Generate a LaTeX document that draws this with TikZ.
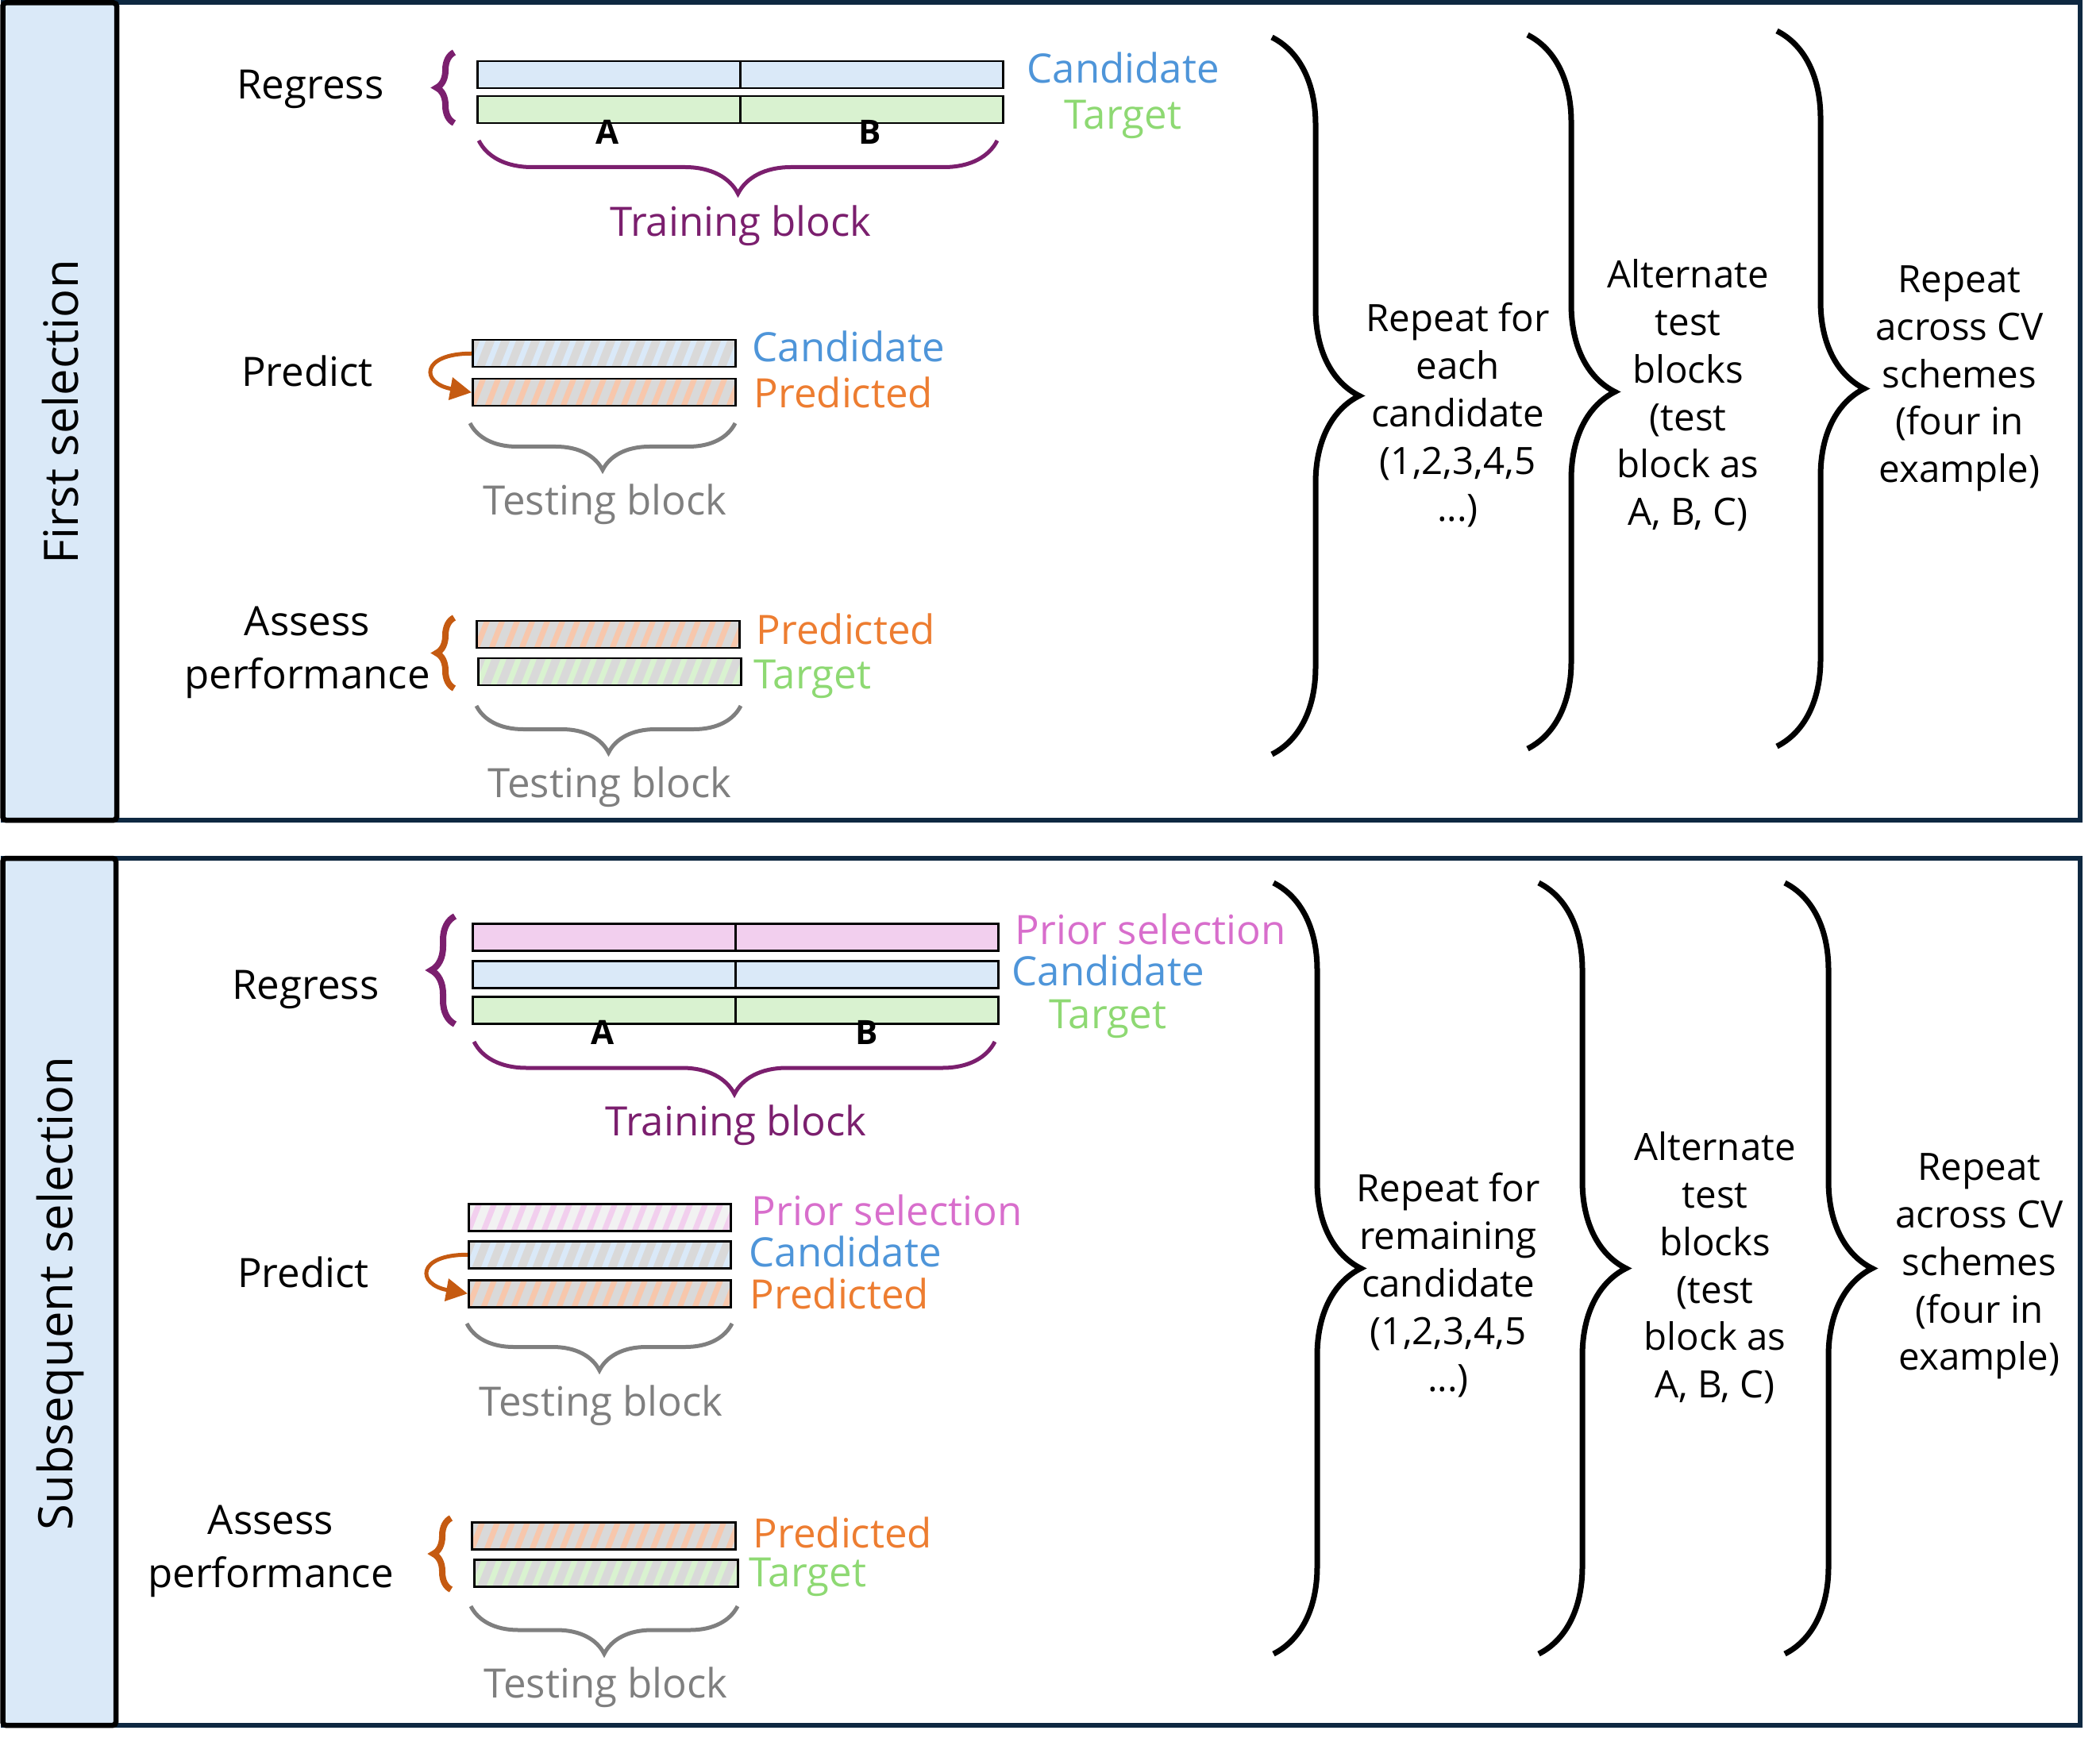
\documentclass[tikz,border=0pt]{standalone}
\usepackage{fontspec}
\setmainfont{Open Sans}
\usetikzlibrary{arrows.meta,decorations.pathreplacing}
\definecolor{navy}{HTML}{0E2841}
\definecolor{sidefill}{HTML}{DAE9F8}
\definecolor{trainc}{HTML}{7B1F6E}
\definecolor{arrowc}{HTML}{C55A11}
\definecolor{candc}{HTML}{4E95D9}
\definecolor{predc}{HTML}{ED7D31}
\definecolor{targc}{HTML}{8ED973}
\definecolor{priorc}{HTML}{D86ECC}
\definecolor{testc}{HTML}{7F7F7F}
\definecolor{candf}{HTML}{DAE9F8}
\definecolor{targf}{HTML}{D9F2D0}
\definecolor{priorf}{HTML}{F2CFEE}
\definecolor{predf}{HTML}{F7C7AC}
\definecolor{hbg}{HTML}{D9D9D9}
\definecolor{hbgl}{HTML}{F2F2F2}
\tikzset{
  panel/.style={draw=navy, line width=0.06cm},
  sidebox/.style={draw=black, fill=sidefill, line width=0.065cm, rounded corners=0.04cm},
  sidetext/.style={rotate=90, font=\fontsize{17}{20}\selectfont},
  txt/.style={inner sep=0pt, font=\fontsize{14.5}{17}\selectfont},
  multi/.style={inner sep=0pt, align=center, font=\fontsize{13.5}{17}\selectfont},
  assesstext/.style={inner sep=0pt, align=center, font=\fontsize{14.5}{19}\selectfont},
  abtext/.style={inner sep=0pt, font=\fontsize{12}{14}\selectfont\bfseries},
  longbar/.style={draw, line width=0.025cm, minimum width=6.62cm, minimum height=0.34cm, inner sep=0pt, anchor=north west},
  shortbar/.style={longbar, minimum width=3.31cm},
  hatch/.style 2 args={fill=#1, path picture={
      \foreach \k in {-0.4,-0.21,...,3.4}
        \draw[#2, line width=0.07cm] ([xshift=\k cm,yshift=-0.05cm]path picture bounding box.south west) -- ++(0.18,0.46);
    }},
  rbrace/.style={decorate, decoration={brace, amplitude=1.1cm}, line width=0.07cm},
  lbrace/.style={decorate, decoration={brace, amplitude=0.22cm}, line width=0.08cm},
  trainbrace/.style={decorate, decoration={brace, amplitude=0.67cm}, draw=trainc, line width=0.05cm},
  testbrace/.style={decorate, decoration={brace, amplitude=0.59cm}, draw=testc, line width=0.05cm},
  predarrow/.style={draw=arrowc, line width=0.05cm, -{Triangle[length=0.27cm,width=0.28cm]}}
}
\begin{document}
\begin{tikzpicture}
\useasboundingbox (0,0) rectangle (26.45,-21.89);

\draw[panel] (0.035,-0.035) rectangle (26.2,-10.33);
\draw[sidebox] (0.035,-0.035) rectangle (1.47,-10.33);
\node[sidetext] (first) at (0.76,-5.19) {First selection};

\node[txt, anchor=base] (reg1) at (3.91,-1.25) {Regress};
\node[longbar, fill=candf] (cand1) at (6.00,-0.76) {};
\node[longbar, fill=targf] (targ1) at (6.00,-1.20) {};
\draw[line width=0.025cm] (cand1.north) -- (cand1.south);
\draw[line width=0.025cm] (targ1.north) -- (targ1.south);
\node[abtext, anchor=base] (a1) at (7.65,-1.82) {A};
\node[abtext, anchor=base] (b1) at (10.96,-1.82) {B};
\draw[lbrace, draw=trainc] (5.72,-1.55) -- (5.72,-0.66);
\draw[trainbrace] (12.56,-1.77) -- (6.03,-1.77);
\node[txt, anchor=base, text=trainc] (train1) at (9.33,-2.98) {Training block};
\node[txt, anchor=base west, text=candc] (lcand1) at (12.93,-1.05) {Candidate};
\node[txt, anchor=base west, text=targc] (ltarg1) at (13.40,-1.63) {Target};

\node[txt, anchor=base] (pred1) at (3.87,-4.87) {Predict};
\node[shortbar, hatch={hbg}{candf}] (candh1) at (5.94,-4.27) {};
\node[shortbar, hatch={hbg}{predf}] (predh1) at (5.94,-4.76) {};
\draw[predarrow] (candh1.west) to[out=180, in=170, looseness=3.4] (predh1.west);
\node[txt, anchor=base west, text=candc] (lcand2) at (9.47,-4.56) {Candidate};
\node[txt, anchor=base west, text=predc] (lpred2) at (9.49,-5.14) {Predicted};
\draw[testbrace] (9.26,-5.33) -- (5.92,-5.33);
\node[txt, anchor=base, text=testc] (test1) at (7.62,-6.49) {Testing block};

\node[assesstext] (assess1) at (3.87,-8.22) {Assess\\performance};
\node[shortbar, hatch={hbg}{predf}] (predh3) at (5.99,-7.81) {};
\node[shortbar, hatch={hbg}{targf}] (targh3) at (6.01,-8.28) {};
\draw[lbrace, draw=arrowc] (5.72,-8.67) -- (5.72,-7.78);
\node[txt, anchor=base west, text=predc] (lpred3) at (9.52,-8.12) {Predicted};
\node[txt, anchor=base west, text=targc] (ltarg3) at (9.49,-8.67) {Target};
\draw[testbrace] (9.33,-8.89) -- (6.00,-8.89);
\node[txt, anchor=base, text=testc] (test2) at (7.68,-10.04) {Testing block};

\draw[rbrace] (16.02,-0.47) -- (16.02,-9.50);
\node[multi] (rep1) at (18.36,-5.23) {Repeat for\\each\\candidate\\(1,2,3,4,5\\...)};
\draw[rbrace] (19.24,-0.44) -- (19.24,-9.43);
\node[multi] (alt1) at (21.26,-4.98) {Alternate\\test\\blocks\\(test\\block as\\A, B, C)};
\draw[rbrace] (22.38,-0.39) -- (22.38,-9.40);
\node[multi] (cv1) at (24.68,-4.77) {Repeat\\across CV\\schemes\\(four in\\example)};

\draw[panel] (0.035,-10.81) rectangle (26.2,-21.73);
\draw[sidebox] (0.035,-10.81) rectangle (1.46,-21.73);
\node[sidetext] (subsequent) at (0.76,-16.29) {Subsequent selection};

\node[txt, anchor=base] (reg2) at (3.85,-12.58) {Regress};
\node[longbar, fill=priorf] (prior4) at (5.94,-11.62) {};
\node[longbar, fill=candf] (cand4) at (5.94,-12.09) {};
\node[longbar, fill=targf] (targ4) at (5.94,-12.54) {};
\draw[line width=0.025cm] (prior4.north) -- (prior4.south);
\draw[line width=0.025cm] (cand4.north) -- (cand4.south);
\draw[line width=0.025cm] (targ4.north) -- (targ4.south);
\node[abtext, anchor=base] (a2) at (7.59,-13.15) {A};
\node[abtext, anchor=base] (b2) at (10.92,-13.15) {B};
\draw[lbrace, decoration={brace, amplitude=0.3cm}, draw=trainc] (5.73,-12.90) -- (5.73,-11.54);
\draw[trainbrace, decoration={brace, amplitude=0.66cm}] (12.53,-13.12) -- (5.97,-13.12);
\node[txt, anchor=base, text=trainc] (train2) at (9.27,-14.30) {Training block};
\node[txt, anchor=base west, text=priorc] (lprior4) at (12.78,-11.89) {Prior selection};
\node[txt, anchor=base west, text=candc] (lcand4) at (12.74,-12.41) {Candidate};
\node[txt, anchor=base west, text=targc] (ltarg4) at (13.21,-12.95) {Target};

\node[txt, anchor=base] (pred2) at (3.82,-16.21) {Predict};
\node[shortbar, minimum width=3.30cm, hatch={hbgl}{priorf}] (priorh5) at (5.89,-15.15) {};
\node[shortbar, minimum width=3.30cm, hatch={hbg}{candf}] (candh5) at (5.89,-15.62) {};
\node[shortbar, minimum width=3.30cm, hatch={hbg}{predf}] (predh5) at (5.89,-16.11) {};
\draw[predarrow] (candh5.west) to[out=180, in=170, looseness=3.4] (predh5.west);
\node[txt, anchor=base west, text=priorc] (lprior5) at (9.46,-15.43) {Prior selection};
\node[txt, anchor=base west, text=candc] (lcand5) at (9.43,-15.95) {Candidate};
\node[txt, anchor=base west, text=predc] (lpred5) at (9.44,-16.48) {Predicted};
\draw[testbrace] (9.22,-16.67) -- (5.88,-16.67);
\node[txt, anchor=base, text=testc] (test3) at (7.57,-17.83) {Testing block};

\node[assesstext] (assess2) at (3.41,-19.54) {Assess\\performance};
\node[shortbar, minimum width=3.32cm, hatch={hbg}{predf}] (predh6) at (5.93,-19.16) {};
\node[shortbar, minimum width=3.32cm, hatch={hbg}{targf}] (targh6) at (5.96,-19.63) {};
\draw[lbrace, draw=arrowc] (5.68,-20.02) -- (5.68,-19.12);
\node[txt, anchor=base west, text=predc] (lpred6) at (9.48,-19.49) {Predicted};
\node[txt, anchor=base west, text=targc] (ltarg6) at (9.43,-19.98) {Target};
\draw[testbrace, decoration={brace, amplitude=0.60cm}] (9.29,-20.23) -- (5.93,-20.23);
\node[txt, anchor=base, text=testc] (test4) at (7.63,-21.38) {Testing block};

\draw[rbrace] (16.04,-11.12) -- (16.04,-20.83);
\node[multi] (rep2) at (18.24,-16.19) {Repeat for\\remaining\\candidate\\(1,2,3,4,5\\...)};
\draw[rbrace] (19.38,-11.12) -- (19.38,-20.83);
\node[multi] (alt2) at (21.60,-15.97) {Alternate\\test\\blocks\\(test\\block as\\A, B, C)};
\draw[rbrace] (22.48,-11.12) -- (22.48,-20.83);
\node[multi] (cv2) at (24.93,-15.95) {Repeat\\across CV\\schemes\\(four in\\example)};
\end{tikzpicture}
\end{document}
